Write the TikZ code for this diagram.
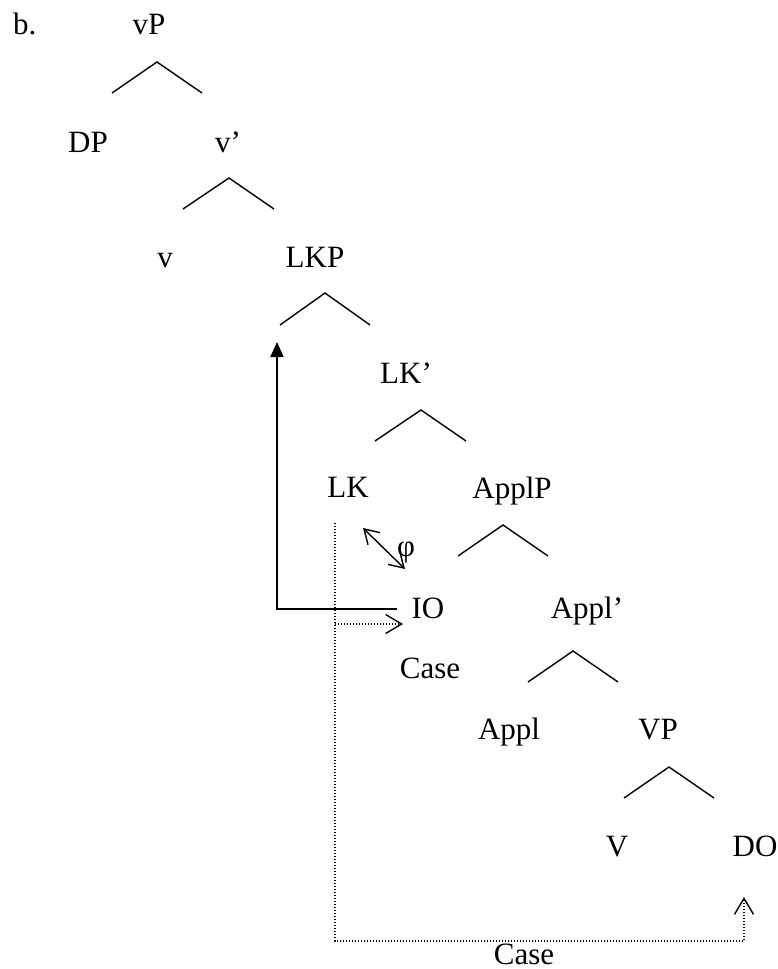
\documentclass[tikz,border=0pt]{standalone}
\usepackage{fontspec}
\setmainfont{Liberation Serif}
\usetikzlibrary{arrows.meta}
\begin{document}
\begin{tikzpicture}[x=1pt,y=-1pt,
  lab/.style={anchor=base,inner sep=0pt,font=\fontsize{31}{31}\selectfont},
  br/.style={line width=1.4pt},
  dots/.style={line width=1.7pt,dash pattern=on 1.4pt off 1.6pt},
  barb/.style={-{Straight Barb[length=16pt,width=19pt,line width=1.4pt]}},
  dbarb/.style={{Straight Barb[length=14pt,width=17pt,line width=1.4pt]}-{Straight Barb[length=14pt,width=17pt,line width=1.4pt]}}
]
\useasboundingbox (0,0) rectangle (778,969);
% labels
\node[lab,anchor=base west] (b) at (13,34) {b.};
\node[lab] (vP) at (149,34) {vP};
\node[lab] (DP) at (88,152) {DP};
\node[lab] (vbar) at (228,152) {v’};
\node[lab] (v) at (165,267) {v};
\node[lab] (LKP) at (315,267) {LKP};
\node[lab] (LKbar) at (406,383) {LK’};
\node[lab] (LK) at (348,497) {LK};
\node[lab] (ApplP) at (512,498) {ApplP};
\node[lab] (IO) at (428,618) {IO};
\node[lab] (Applbar) at (587,618) {Appl’};
\node[lab] (Case1) at (430,678) {Case};
\node[lab] (Appl) at (509,739) {Appl};
\node[lab] (VP) at (658,739) {VP};
\node[lab] (V) at (617,856) {V};
\node[lab] (DO) at (755,856) {DO};
\node[lab] (Case2) at (524,964) {Case};
\node[lab,anchor=center] (phi) at (406,552) {φ};
% branches
\draw[br] (112,93) -- (157,62) -- (202,93);
\draw[br] (183,209) -- (229,178) -- (274,209);
\draw[br] (280,325) -- (325,293) -- (370,325);
\draw[br] (375,441) -- (421,410) -- (466,441);
\draw[br] (458,556) -- (503,525) -- (548,556);
\draw[br] (528,682) -- (573,651) -- (618,682);
\draw[br] (624,798) -- (669,767) -- (714,798);
% arrows
\coordinate (s1) at (397,609);
\coordinate (s2) at (277,342);
\draw[line width=1.7pt,-{Triangle[length=15pt,width=13pt]}] (s1) -| (s2);
\coordinate (d1) at (335,523);
\coordinate (d2) at (744,941);
\coordinate (dtip) at (744,897);
\draw[dots,barb] (d1) |- (d2) -- (dtip);
\coordinate (h1) at (335,624);
\coordinate (h2) at (403,624);
\draw[dots,barb] (h1) -- (h2);
\coordinate (p1) at (363,528);
\coordinate (p2) at (405,569);
\draw[line width=1.4pt,dbarb] (p1) -- (p2);
\end{tikzpicture}
\end{document}
